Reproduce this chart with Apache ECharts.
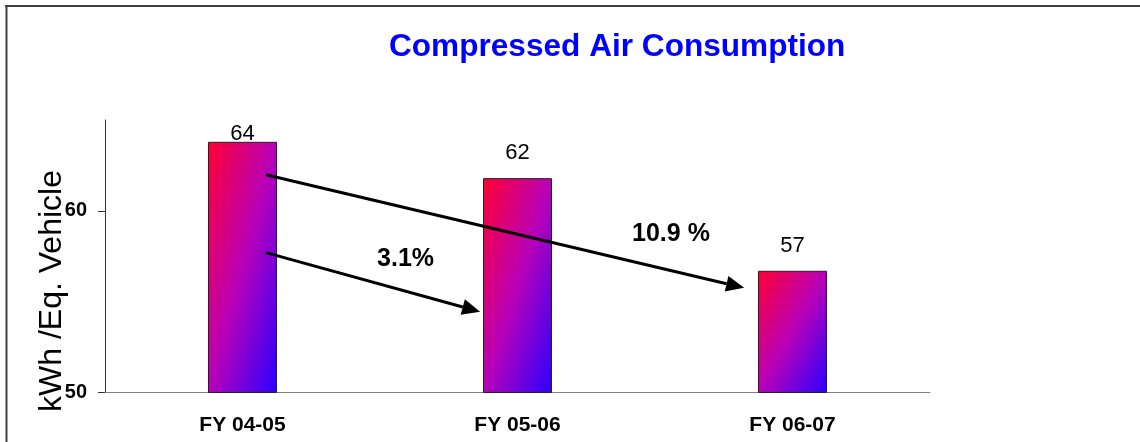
<!DOCTYPE html>
<html>
<head>
<meta charset="utf-8">
<script src="https://cdn.jsdelivr.net/npm/echarts@6/dist/echarts.min.js"></script>
<style>
  html, body { margin: 0; padding: 0; background: #fff; overflow: hidden; }
  #chart { width: 1140px; height: 442px; }
</style>
</head>
<body>
<div id="chart"></div>
<script>
const categories = ['FY 04-05', 'FY 05-06', 'FY 06-07']
const consumption = [63.8, 61.8, 56.7]
const yTicks = [50, 60]
const changeLabels = ['3.1%', '10.9 %']

const FONT = '"Liberation Sans", Arial, sans-serif'
const BAR_W = 69

const chart = echarts.init(document.getElementById('chart'))

chart.setOption({
  animation: false,
  title: {
    text: 'Compressed Air Consumption',
    left: 384,
    top: 26,
    textStyle: { fontSize: 31.6, fontWeight: 'bold', color: '#0000ff', fontFamily: FONT }
  },
  grid: { left: 105, right: 210, top: 120, bottom: 49.5 },
  xAxis: {
    type: 'category',
    data: categories,
    axisLine: { lineStyle: { color: '#808080' } },
    axisTick: { length: 7, lineStyle: { color: '#808080' } },
    axisLabel: { margin: 22, fontSize: 21, fontWeight: 'bold', color: '#000', fontFamily: FONT }
  },
  yAxis: {
    type: 'value',
    min: 50,
    max: 65,
    interval: 10,
    splitLine: { show: false },
    axisLine: { show: true, lineStyle: { color: '#333' } },
    axisTick: { show: true, length: 7, customValues: yTicks, lineStyle: { color: '#333' } },
    axisLabel: { customValues: yTicks, margin: 18, fontSize: 20, fontWeight: 'bold', color: '#000', fontFamily: FONT }
  },
  series: [{
    type: 'bar',
    barWidth: BAR_W,
    data: consumption,
    itemStyle: { borderColor: '#222', borderWidth: 1 },
    label: {
      show: true,
      position: 'top',
      distance: 14,
      fontSize: 22,
      color: '#000',
      fontFamily: FONT,
      formatter: (p) => Math.round(p.value)
    }
  }]
})

// diagonal gradient per bar, stretched to the bar's box like the original
const base = chart.convertToPixel({ yAxisIndex: 0 }, 50)
const barData = consumption.map((v, i) => {
  const h = base - chart.convertToPixel({ yAxisIndex: 0 }, v)
  const w = BAR_W
  const d = h * h + w * w
  const item = {
    value: v,
    itemStyle: {
      color: new echarts.graphic.LinearGradient(0, 0, 2 * h * h / d, 2 * w * w / d, [
        { offset: 0, color: '#ff0033' },
        { offset: 0.5, color: '#b800b8' },
        { offset: 1, color: '#2a00ff' }
      ])
    }
  }
  if (i === 0) item.label = { distance: -3 }
  return item
})

const x0 = chart.convertToPixel({ xAxisIndex: 0 }, categories[0])
const band = chart.convertToPixel({ xAxisIndex: 0 }, categories[1]) - x0
const pt = (c, v) => [x0 + c * band, chart.convertToPixel({ yAxisIndex: 0 }, v)]

function arrow(a, b) {
  const dx = b[0] - a[0], dy = b[1] - a[1]
  const len = Math.hypot(dx, dy)
  const ux = dx / len, uy = dy / len
  const hl = 18, hw = 8
  const bx = b[0] - ux * hl, by = b[1] - uy * hl
  return [
    { type: 'line', z: 10, shape: { x1: a[0], y1: a[1], x2: bx, y2: by }, style: { stroke: '#000', lineWidth: 3 } },
    { type: 'polygon', z: 10, shape: { points: [b, [bx - uy * hw, by + ux * hw], [bx + uy * hw, by - ux * hw]] }, style: { fill: '#000' } }
  ]
}

function note(text, p) {
  return {
    type: 'text', z: 10, x: p[0], y: p[1],
    style: { text: text, fontSize: 25, fontWeight: 'bold', fill: '#000', fontFamily: FONT, align: 'center', verticalAlign: 'middle' }
  }
}

chart.setOption({
  series: [{ data: barData }],
  graphic: [
    // frame: only the top and left edges are inside the picture
    { type: 'line', shape: { x1: 5, y1: 6, x2: 1140, y2: 6 }, style: { stroke: '#404040', lineWidth: 2 } },
    { type: 'line', shape: { x1: 6.5, y1: 5, x2: 6.5, y2: 442 }, style: { stroke: '#404040', lineWidth: 2 } },
    {
      type: 'text', x: 52, y: 291, rotation: Math.PI / 2,
      style: { text: 'kWh /Eq. Vehicle', fontSize: 32, fill: '#000', fontFamily: FONT, align: 'center', verticalAlign: 'middle' }
    },
    ...arrow(pt(0.0855, 61.99), pt(1.824, 55.76)),
    ...arrow(pt(0.0855, 57.70), pt(0.864, 54.44)),
    note(changeLabels[0], pt(0.593, 57.36)),
    note(changeLabels[1], pt(1.558, 58.71))
  ]
})
</script>
</body>
</html>
